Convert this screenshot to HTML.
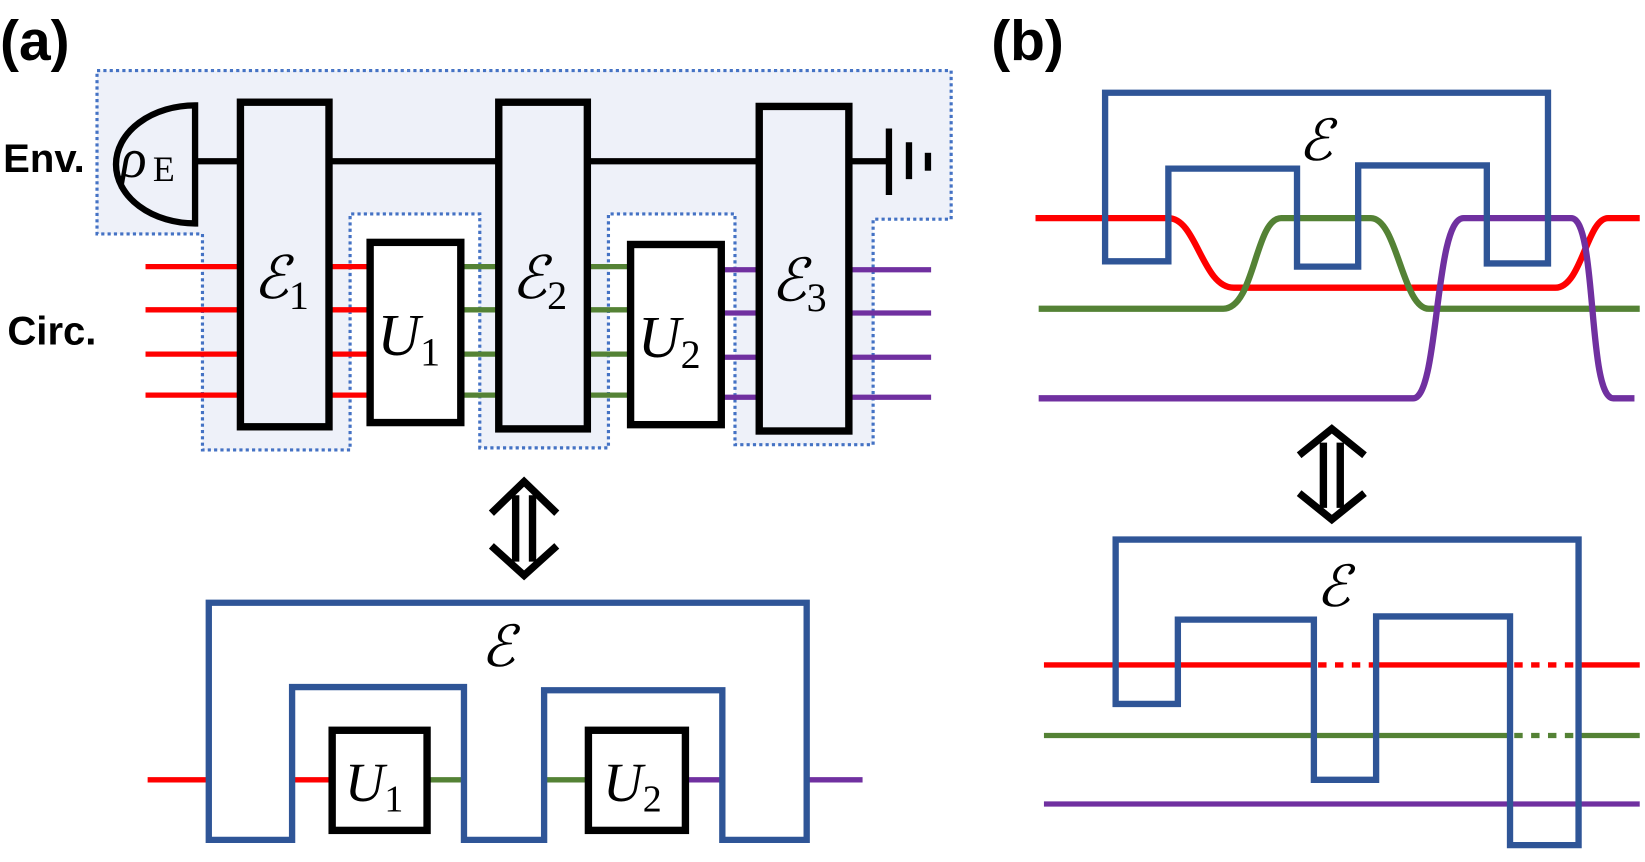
<!DOCTYPE html>
<html><head><meta charset="utf-8"><style>
html,body{margin:0;padding:0;background:#fff;}
svg{display:block;}
text{font-family:"Liberation Serif","DejaVu Serif",serif;}
.lbl{font-family:"Liberation Sans",sans-serif;font-weight:bold;}
</style></head><body>
<svg width="1645" height="862" viewBox="0 0 1560 818" preserveAspectRatio="none" xmlns="http://www.w3.org/2000/svg">
<text class="lbl" x="0" y="57" font-size="54">(a)</text>
<text class="lbl" x="940" y="57" font-size="54">(b)</text>
<text class="lbl" x="3" y="163" font-size="38">Env.</text>
<text class="lbl" x="7" y="327" font-size="38">Circ.</text>
<path d="M92,67 H902 V208 H828 V422 H697 V203 H577 V425 H455 V203 H332 V427 H192 V222 H92 Z" fill="#eef1f9" stroke="#4472c4" stroke-width="3" stroke-dasharray="3,3"/>
<g stroke-width="5">
<g stroke="#ff0000"><line x1="138" y1="253" x2="351" y2="253"/><line x1="138" y1="294" x2="351" y2="294"/><line x1="138" y1="336" x2="351" y2="336"/><line x1="138" y1="375" x2="351" y2="375"/></g>
<g stroke="#548235"><line x1="437" y1="253" x2="598" y2="253"/><line x1="437" y1="294" x2="598" y2="294"/><line x1="437" y1="336" x2="598" y2="336"/><line x1="437" y1="375" x2="598" y2="375"/></g>
<g stroke="#7030a0"><line x1="684" y1="256" x2="883" y2="256"/><line x1="684" y1="297" x2="883" y2="297"/><line x1="684" y1="339" x2="883" y2="339"/><line x1="684" y1="377" x2="883" y2="377"/></g>
</g>
<line x1="185" y1="153" x2="843" y2="153" stroke="#000" stroke-width="6"/>
<path d="M185,100 A75,56 0 0 0 185,212 Z" fill="#eef1f9" stroke="#000" stroke-width="6"/>
<text x="114" y="168" font-size="52" font-style="italic">ρ</text><text x="145" y="172" font-size="34">E</text>
<g stroke="#000" stroke-width="6"><line x1="843" y1="122" x2="843" y2="185"/><line x1="862" y1="135" x2="862" y2="170"/><line x1="880" y1="145" x2="880" y2="162"/></g>
<g stroke="#000" stroke-width="7">
<rect x="228" y="97" width="84" height="308" fill="#eef1f9"/>
<rect x="473" y="97" width="84" height="310" fill="#eef1f9"/>
<rect x="720" y="101" width="85" height="308" fill="#eef1f9"/>
<rect x="351" y="230" width="86" height="171" fill="#fff"/>
<rect x="598" y="232" width="86" height="171" fill="#fff"/>
</g>
<g font-size="56" font-style="italic">
<text x="240" y="283">ℰ<tspan font-size="38" font-style="normal" dy="10">1</tspan></text>
<text x="485" y="283">ℰ<tspan font-size="38" font-style="normal" dy="10">2</tspan></text>
<text x="731" y="285">ℰ<tspan font-size="38" font-style="normal" dy="10">3</tspan></text>
<text x="358" y="337">U<tspan font-size="38" font-style="normal" dy="10">1</tspan></text>
<text x="605" y="339">U<tspan font-size="38" font-style="normal" dy="10">2</tspan></text>
</g>
<path d="M466,487 L497,457 L528,487 M466,518 L497,546 L528,518 M489,470 V533 M505,470 V533" fill="none" stroke="#000" stroke-width="7"/>
<g stroke-width="5">
<line x1="140" y1="740" x2="198" y2="740" stroke="#ff0000"/>
<line x1="277" y1="740" x2="315" y2="740" stroke="#ff0000"/>
<line x1="405" y1="740" x2="440" y2="740" stroke="#548235"/>
<line x1="516" y1="740" x2="558" y2="740" stroke="#548235"/>
<line x1="650" y1="740" x2="685" y2="740" stroke="#7030a0"/>
<line x1="765" y1="740" x2="818" y2="740" stroke="#7030a0"/>
</g>
<path d="M198,572 H765 V797 H685 V655 H516 V797 H440 V652 H277 V797 H198 Z" fill="none" stroke="#2f5597" stroke-width="6"/>
<rect x="315" y="693" width="90" height="95" fill="#fff" stroke="#000" stroke-width="7"/>
<rect x="558" y="693" width="92" height="95" fill="#fff" stroke="#000" stroke-width="7"/>
<text x="327" y="760" font-size="52" font-style="italic">U<tspan font-size="36" font-style="normal" dy="10">1</tspan></text>
<text x="572" y="760" font-size="52" font-style="italic">U<tspan font-size="36" font-style="normal" dy="10">2</tspan></text>
<text x="456" y="632" font-size="54" font-style="italic">ℰ</text>
<g fill="none" stroke-width="6">
<path d="M982,207 H1108 C1135,207 1140,273 1170,273 H1475 C1500,273 1505,207 1525,207 H1555" stroke="#ff0000"/>
<path d="M985,293 H1160 C1190,293 1190,207 1215,207 H1300 C1325,207 1330,293 1355,293 H1555" stroke="#548235"/>
<path d="M985,378 H1340 C1365,378 1360,207 1388,207 H1490 C1515,207 1505,378 1530,378 H1550" stroke="#7030a0"/>
</g>
<path d="M1048,88 H1468 V250 H1410 V157 H1288 V253 H1230 V160 H1108 V248 H1048 Z" fill="none" stroke="#2f5597" stroke-width="6"/>
<text x="1231" y="152" font-size="54" font-style="italic">ℰ</text>
<path d="M1232,432 L1263,407 L1294,432 M1232,468 L1263,493 L1294,468 M1255,420 V482 M1271,420 V482" fill="none" stroke="#000" stroke-width="7"/>
<g stroke-width="5">
<line x1="990" y1="631" x2="1246" y2="631" stroke="#ff0000"/>
<line x1="1305" y1="631" x2="1432" y2="631" stroke="#ff0000"/>
<line x1="1497" y1="631" x2="1555" y2="631" stroke="#ff0000"/>
<line x1="1250" y1="631" x2="1305" y2="631" stroke="#ff0000" stroke-dasharray="8,8"/>
<line x1="1436" y1="631" x2="1497" y2="631" stroke="#ff0000" stroke-dasharray="8,8"/>
<line x1="990" y1="698" x2="1432" y2="698" stroke="#548235"/>
<line x1="1497" y1="698" x2="1555" y2="698" stroke="#548235"/>
<line x1="1436" y1="698" x2="1497" y2="698" stroke="#548235" stroke-dasharray="8,8"/>
<line x1="990" y1="763" x2="1555" y2="763" stroke="#7030a0"/>
</g>
<path d="M1058,512 H1497 V802 H1432 V585 H1305 V740 H1246 V588 H1117 V668 H1058 Z" fill="none" stroke="#2f5597" stroke-width="6"/>
<text x="1248" y="575" font-size="54" font-style="italic">ℰ</text>
</svg>
</body></html>
